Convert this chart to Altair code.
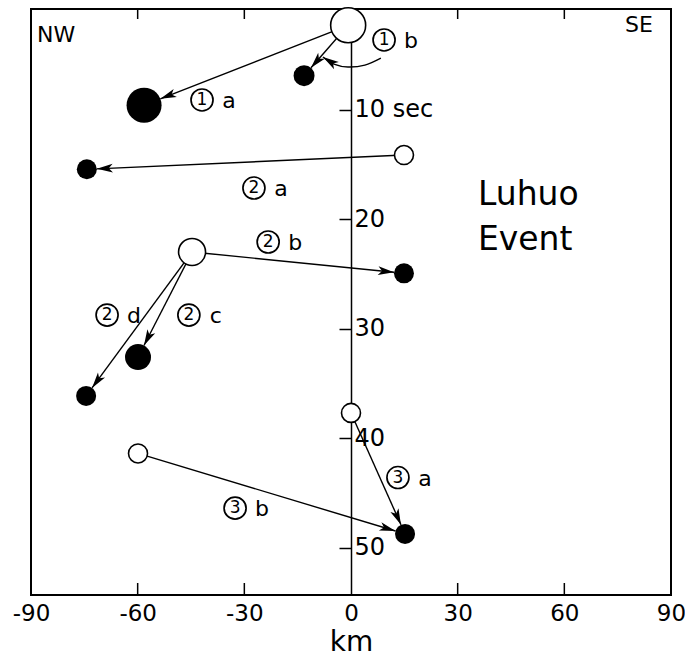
import math
import altair as alt
import pandas as pd

# ---------------- data (km along strike, NW negative; seconds) ----------------
node_name = ["o1", "f1a", "f1b", "o2a", "f2a", "o2", "f2b", "f2c", "f2d", "o3a", "o3b", "f3"]
node_km = [-0.8, -58.2, -13.2, 14.9, -74.3, -44.7, 14.9, -59.9, -74.5, 0.0, -59.9, 15.2]
node_sec = [2.3, 9.6, 6.9, 14.15, 15.45, 23.0, 24.95, 32.6, 36.15, 37.7, 41.4, 48.75]
node_filled = [False, True, True, False, True, False, True, True, True, False, False, True]
node_diam = [35, 35, 21, 19, 20, 27, 20, 26, 20, 19, 19, 20]

arrow_from = ["o1", "o1", "o2a", "o2", "o2", "o2", "o3a", "o3b"]
arrow_to = ["f1a", "f1b", "f2a", "f2b", "f2c", "f2d", "f3", "f3"]

label_num = ["1", "1", "2", "2", "2", "2", "3", "3"]
label_let = ["a", "b", "a", "b", "d", "c", "a", "b"]
label_km = [-41.9, 9.3, -27.3, -23.3, -68.6, -45.6, 13.2, -32.6]
label_sec = [9.12, 3.64, 17.16, 22.09, 28.76, 28.76, 43.6, 46.4]

pointer_km = [8.4, 3.9, -0.85, -4.8, -7.9]
pointer_sec = [5.29, 5.93, 6.11, 5.84, 5.2]

x_ticks = [-90, -60, -30, 0, 30, 60, 90]
x_inner_ticks = [-60, -30, 30, 60]
y_ticks = [10, 20, 30, 40, 50]

corner_text = ["NW", "SE"]
corner_km = [-88.3, 84.9]
corner_sec = [3.83, 2.91]
corner_align = ["left", "right"]

event_text = ["Luhuo", "Event"]
event_km = [35.7, 35.7]
event_sec = [18.71, 22.8]

# ---------------- geometry helpers ----------------
W, H = 640, 586
XD = (-90.0, 90.0)
YD = (0.81, 54.33)


def px(x):
    return (x - XD[0]) / (XD[1] - XD[0]) * W


def py(t):
    return (t - YD[0]) / (YD[1] - YD[0]) * H


def ix(p):
    return XD[0] + p / W * (XD[1] - XD[0])


def iy(p):
    return YD[0] + p / H * (YD[1] - YD[0])


HEAD_R = 8.0
HEAD_PATH = "M0,-1L0.55,1L0,0.5L-0.55,1Z"

nodes = pd.DataFrame({"name": node_name, "x": node_km, "t": node_sec,
                      "filled": node_filled, "diam": node_diam})
nodes["area"] = nodes["diam"] ** 2
nd = nodes.set_index("name")

rules, heads = [], []
for a, b in zip(arrow_from, arrow_to):
    x0, t0 = nd.loc[a, "x"], nd.loc[a, "t"]
    x1, t1 = nd.loc[b, "x"], nd.loc[b, "t"]
    dxp, dyp = px(x1) - px(x0), py(t1) - py(t0)
    L = math.hypot(dxp, dyp)
    ux, uy = dxp / L, dyp / L
    R = nd.loc[b, "diam"] / 2.0
    tipx, tipy = px(x1) - ux * R, py(t1) - uy * R
    cx, cy = tipx - ux * HEAD_R, tipy - uy * HEAD_R
    ang = math.degrees(math.atan2(dxp, -dyp)) % 360
    rules.append({"x": x0, "t": t0, "x2": ix(tipx), "t2": iy(tipy)})
    heads.append({"x": ix(cx), "t": iy(cy), "ang": ang})

# curved pointer for (1)b
pdx = px(pointer_km[-1]) - px(pointer_km[-2])
pdy = py(pointer_sec[-1]) - py(pointer_sec[-2])
pL = math.hypot(pdx, pdy)
pcx = px(pointer_km[-1]) - pdx / pL * HEAD_R
pcy = py(pointer_sec[-1]) - pdy / pL * HEAD_R
heads.append({"x": ix(pcx), "t": iy(pcy), "ang": math.degrees(math.atan2(pdx, -pdy)) % 360})

rules_df = pd.DataFrame(rules)
heads_df = pd.DataFrame(heads)
pointer_df = pd.DataFrame({"x": pointer_km, "t": pointer_sec, "i": range(len(pointer_km))})
labels_df = pd.DataFrame({"x": label_km, "t": label_sec, "num": label_num, "let": label_let})
corner_df = pd.DataFrame({"x": corner_km, "t": corner_sec, "txt": corner_text, "al": corner_align})
event_df = pd.DataFrame({"x": event_km, "t": event_sec, "txt": event_text})
xt_df = pd.DataFrame({"x": x_inner_ticks})

# ---------------- encodings ----------------
xscale = alt.Scale(domain=list(XD), nice=False, zero=False)
yscale = alt.Scale(domain=list(YD), nice=False, zero=False, reverse=True)

xaxis = alt.Axis(values=x_ticks, ticks=False, domain=False, grid=False,
                 labelExpr="'' + datum.value", labelFontSize=23, labelPadding=7,
                 labelColor="black", labelFlush=False,
                 title="km", titleFontSize=28, titleFontWeight="normal",
                 titleColor="black", titlePadding=3)
nb = "\u00a0"
yaxis = alt.Axis(values=y_ticks, orient="left", offset=-px(0), grid=False,
                 domain=True, domainColor="black", domainWidth=1.5,
                 ticks=True, tickSize=12, tickWidth=1.5, tickColor="black",
                 labelAlign="left", labelBaseline="middle", labelPadding=-15,
                 labelFontSize=24, labelColor="black",
                 labelExpr=f"datum.value == 10 ? '10 sec' : (datum.value == 40 ? '{nb}{nb}40' : datum.label)",
                 title=None)


def X(f="x"):
    return alt.X(f, type="quantitative", scale=xscale, axis=xaxis)


def Y(f="t"):
    return alt.Y(f, type="quantitative", scale=yscale, axis=yaxis)


arrow_lines = alt.Chart(rules_df).mark_rule(color="black", strokeWidth=1.4).encode(
    x=X(), y=Y(), x2=alt.X2("x2"), y2=alt.Y2("t2"))

pointer = alt.Chart(pointer_df).mark_line(color="black", strokeWidth=1.4, interpolate="cardinal").encode(
    x=X(), y=Y(), order=alt.Order("i:Q"))

arrow_heads = alt.Chart(heads_df).mark_point(
    shape=HEAD_PATH, filled=True, fill="black", color="black", opacity=1, size=HEAD_R * HEAD_R * 4,
    strokeWidth=0).encode(x=X(), y=Y(), angle=alt.Angle("ang:Q", scale=None))

open_pts = alt.Chart(nodes[~nodes["filled"]]).mark_point(
    shape="circle", filled=True, fill="white", stroke="black", strokeWidth=1.6, opacity=1).encode(
    x=X(), y=Y(), size=alt.Size("area:Q", scale=None))

filled_pts = alt.Chart(nodes[nodes["filled"]]).mark_point(
    shape="circle", filled=True, fill="black", color="black", opacity=1, strokeWidth=0).encode(
    x=X(), y=Y(), size=alt.Size("area:Q", scale=None))

label_circles = alt.Chart(labels_df).mark_point(
    shape="circle", filled=False, stroke="black", strokeWidth=1.7, opacity=1, size=22 * 22).encode(
    x=X(), y=Y())

label_digits = alt.Chart(labels_df).mark_text(
    fontSize=17, color="black", align="center", baseline="middle").encode(
    x=X(), y=Y(), text="num:N")

label_letters = alt.Chart(labels_df).mark_text(
    fontSize=22, color="black", align="center", baseline="middle", dx=27, dy=1).encode(
    x=X(), y=Y(), text="let:N")

corner_left = alt.Chart(corner_df[corner_df["al"] == "left"]).mark_text(
    fontSize=22, color="black", align="left", baseline="alphabetic").encode(
    x=X(), y=Y(), text="txt:N")
corner_right = alt.Chart(corner_df[corner_df["al"] == "right"]).mark_text(
    fontSize=22, color="black", align="right", baseline="alphabetic").encode(
    x=X(), y=Y(), text="txt:N")

event_title = alt.Chart(event_df).mark_text(
    fontSize=33, color="black", align="left", baseline="alphabetic").encode(
    x=X(), y=Y(), text="txt:N")

ticks_bottom = alt.Chart(xt_df).mark_rule(color="black", strokeWidth=1.5).encode(
    x=X(), y=alt.value(H), y2=alt.value(H - 12))
ticks_top = alt.Chart(xt_df).mark_rule(color="black", strokeWidth=1.5).encode(
    x=X(), y=alt.value(0), y2=alt.value(10))

chart = alt.layer(
    arrow_lines, pointer, arrow_heads, open_pts, filled_pts,
    label_circles, label_digits, label_letters,
    corner_left, corner_right, event_title, ticks_bottom, ticks_top,
).properties(
    width=W, height=H,
    padding={"left": 31, "top": 9, "right": 14, "bottom": 63},
    autosize=alt.AutoSizeParams(type="none"),
    background="white",
).configure(font="DejaVu Sans").configure_view(stroke="black", strokeWidth=2)

chart.save("out.html", embed_options={"renderer": "svg", "actions": False})
